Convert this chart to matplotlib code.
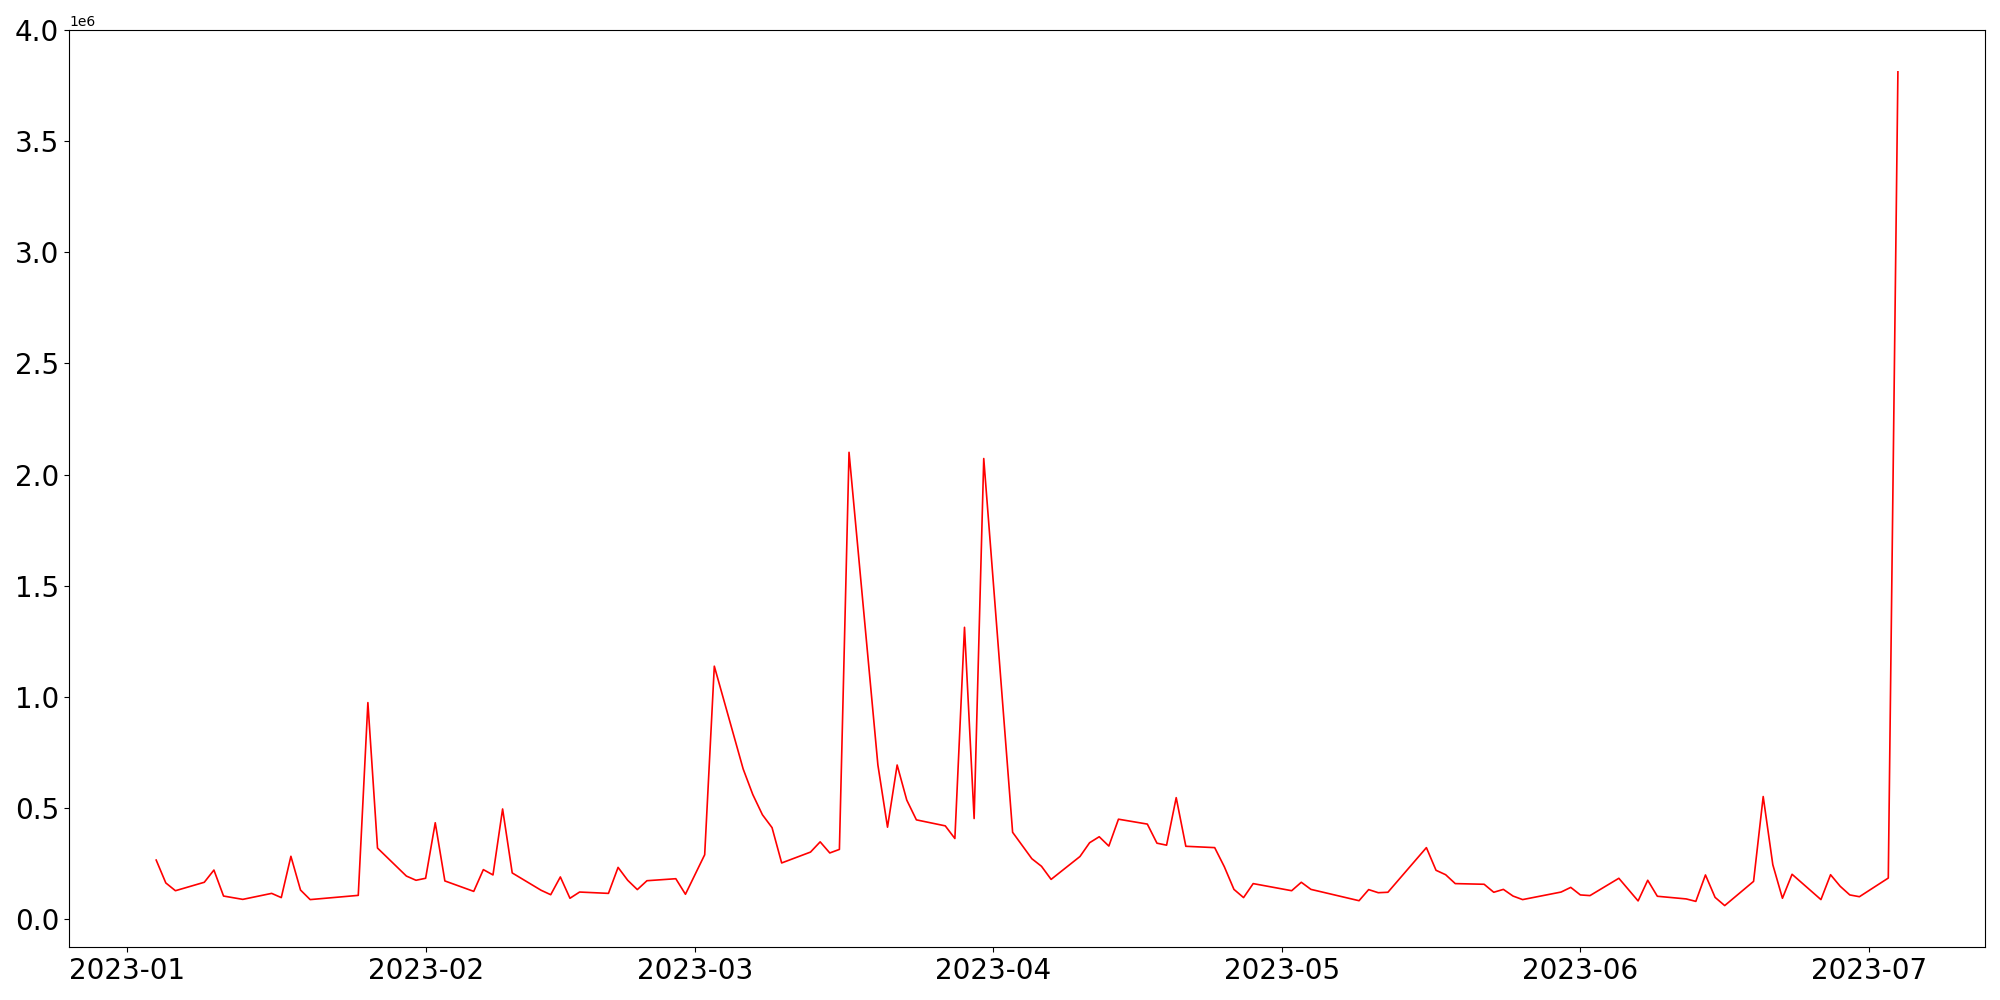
import matplotlib
matplotlib.use("Agg")
import matplotlib.pyplot as plt
import pandas as pd

dates = [
    "2023-01-04", "2023-01-05", "2023-01-06", "2023-01-09", "2023-01-10", "2023-01-11",
    "2023-01-13", "2023-01-16", "2023-01-17", "2023-01-18", "2023-01-19", "2023-01-20",
    "2023-01-25", "2023-01-26", "2023-01-27", "2023-01-30", "2023-01-31",
    "2023-02-01", "2023-02-02", "2023-02-03", "2023-02-06", "2023-02-07", "2023-02-08",
    "2023-02-09", "2023-02-10", "2023-02-13", "2023-02-14", "2023-02-15", "2023-02-16",
    "2023-02-17", "2023-02-20", "2023-02-21", "2023-02-22", "2023-02-23", "2023-02-24",
    "2023-02-27", "2023-02-28",
    "2023-03-02", "2023-03-03", "2023-03-06", "2023-03-07", "2023-03-08", "2023-03-09",
    "2023-03-10", "2023-03-13", "2023-03-14", "2023-03-15", "2023-03-16", "2023-03-17",
    "2023-03-20", "2023-03-21", "2023-03-22", "2023-03-23", "2023-03-24", "2023-03-27",
    "2023-03-28", "2023-03-29", "2023-03-30", "2023-03-31",
    "2023-04-03", "2023-04-05", "2023-04-06", "2023-04-07", "2023-04-10", "2023-04-11",
    "2023-04-12", "2023-04-13", "2023-04-14", "2023-04-17", "2023-04-18", "2023-04-19",
    "2023-04-20", "2023-04-21", "2023-04-24", "2023-04-25", "2023-04-26", "2023-04-27",
    "2023-04-28",
    "2023-05-02", "2023-05-03", "2023-05-04", "2023-05-09", "2023-05-10", "2023-05-11",
    "2023-05-12", "2023-05-16", "2023-05-17", "2023-05-18", "2023-05-19", "2023-05-22",
    "2023-05-23", "2023-05-24", "2023-05-25", "2023-05-26", "2023-05-30", "2023-05-31",
    "2023-06-01", "2023-06-02", "2023-06-05", "2023-06-07", "2023-06-08", "2023-06-09",
    "2023-06-12", "2023-06-13", "2023-06-14", "2023-06-15", "2023-06-16", "2023-06-19",
    "2023-06-20", "2023-06-21", "2023-06-22", "2023-06-23", "2023-06-26", "2023-06-27",
    "2023-06-28", "2023-06-29", "2023-06-30",
    "2023-07-03", "2023-07-04",
]

values_m = [
    0.264, 0.161, 0.126, 0.164, 0.219, 0.102,
    0.087, 0.114, 0.095, 0.281, 0.129, 0.086,
    0.105, 0.973, 0.318, 0.192, 0.173,
    0.182, 0.432, 0.170, 0.123, 0.221, 0.197,
    0.494, 0.206, 0.128, 0.108, 0.188, 0.092,
    0.120, 0.114, 0.231, 0.173, 0.131, 0.171,
    0.180, 0.110,
    0.288, 1.137, 0.674, 0.559, 0.468, 0.410,
    0.251, 0.300, 0.346, 0.296, 0.312, 2.100,
    0.692, 0.412, 0.692, 0.534, 0.445, 0.418,
    0.361, 1.312, 0.451, 2.072,
    0.389, 0.270, 0.236, 0.177, 0.280, 0.342,
    0.369, 0.327, 0.448, 0.426, 0.340, 0.331,
    0.545, 0.326, 0.320, 0.234, 0.132, 0.095,
    0.158,
    0.126, 0.164, 0.132, 0.081, 0.131, 0.117,
    0.119, 0.320, 0.218, 0.198, 0.158, 0.155,
    0.119, 0.132, 0.102, 0.086, 0.120, 0.141,
    0.107, 0.104, 0.182, 0.080, 0.173, 0.101,
    0.089, 0.078, 0.197, 0.096, 0.059, 0.168,
    0.550, 0.243, 0.092, 0.200, 0.086, 0.198,
    0.146, 0.107, 0.099,
    0.183, 3.813,
]

x = pd.to_datetime(dates)
y = [v * 1e6 for v in values_m]

fig, ax = plt.subplots(figsize=(20, 10), dpi=100)
ax.plot(x, y, color="red", linewidth=1.2)
plt.xticks(fontsize=20)
plt.yticks(fontsize=20)
fig.tight_layout()
fig.savefig("out.png", dpi=100)
